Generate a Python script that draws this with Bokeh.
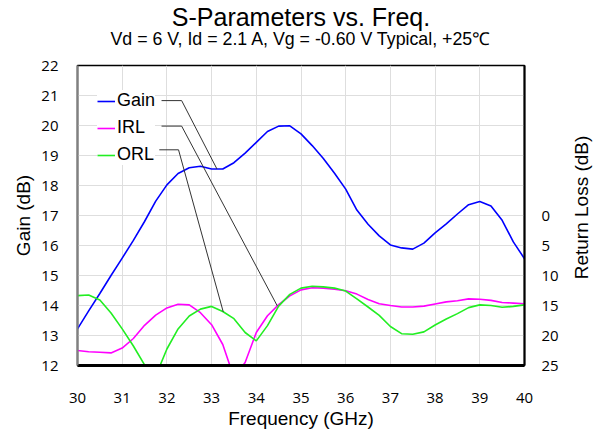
import math
import numpy as np
from bokeh.plotting import figure
from bokeh.models import (Range1d, LinearAxis, FixedTicker, Legend, LegendItem, Title, Label)
from bokeh.embed import file_html
from bokeh.resources import INLINE

# ---------------- data ----------------
freq_ghz = np.arange(30.0, 40.001, 0.25)

gain_db = [13.22, 13.82, 14.40, 15.00, 15.58, 16.17, 16.80, 17.48, 18.02, 18.40,
           18.59, 18.64, 18.55, 18.55, 18.76, 19.08, 19.44, 19.80, 19.98, 19.99,
           19.72, 19.33, 18.90, 18.41, 17.88, 17.18, 16.71, 16.32, 16.02, 15.92,
           15.88, 16.08, 16.42, 16.72, 17.05, 17.36, 17.47, 17.32, 16.84, 16.12,
           15.56]

irl_db = [22.5, 22.7, 22.8, 22.9, 22.1, 20.5, 18.3, 16.6, 15.4, 14.8,
          14.9, 16.2, 18.2, 21.5, 27.0, 24.5, 19.5, 16.7, 14.85, 13.4,
          12.4, 12.05, 12.1, 12.3, 12.55, 13.1, 14.0, 14.7, 15.0, 15.25,
          15.25, 15.1, 14.75, 14.4, 14.2, 13.9, 13.95, 14.15, 14.5, 14.6,
          14.7]

orl_db = [13.35, 13.25, 14.1, 16.25, 18.9, 21.75, 24.9, 26.75, 22.25, 18.9,
          16.75, 15.6, 15.15, 16.0, 17.2, 19.5, 20.9, 18.35, 15.1, 13.15,
          12.1, 11.8, 11.9, 12.1, 12.6, 13.9, 15.25, 16.65, 18.5, 19.7,
          19.8, 19.4, 18.25, 17.25, 16.35, 15.35, 14.9, 15.0, 15.3, 15.15,
          14.9]

x_ticks = list(range(30, 41))
gain_ticks = list(range(12, 23))
rl_ticks = [0, 5, 10, 15, 20, 25]

series_names = ["Gain", "IRL", "ORL"]
series_colors = ["#0000ff", "#ff00ff", "#22ee22"]

# callout anchors (frequency on each curve that the leader line points to)
callout_freq = [33.12, 34.47, 33.26]
callout_start_x = [31.88, 31.88, 31.83]
callout_elbow_x = [32.33, 32.33, 32.26]
callout_y = [20.83, 19.98, 19.19]

title_text = "S-Parameters vs. Freq."
subtitle_text = "Vd = 6 V, Id = 2.1 A, Vg = -0.60 V Typical, +25\u2103"
x_title = "Frequency (GHz)"
y_title = "Gain (dB)"
y2_title = "Return Loss (dB)"

# ---------------- figure ----------------
G_LO, G_HI = 12, 22
RL_BOTTOM, RL_TOP = 25, -25

p = figure(title=None, frame_width=447, frame_height=300,
           x_range=Range1d(30, 40), y_range=Range1d(G_LO, G_HI),
           output_backend="svg", toolbar_location=None,
           min_border_left=77, min_border_right=76,
           min_border_top=65, min_border_bottom=68,
           background_fill_color="white", border_fill_color="white")
p.extra_y_ranges = {"rl": Range1d(start=RL_BOTTOM, end=RL_TOP)}

p.outline_line_color = "black"
p.outline_line_width = 1.5

TICK_FONT = "Open Sans"
LABEL_FONT = "Liberation Sans"

p.xaxis.ticker = FixedTicker(ticks=x_ticks)
p.yaxis.ticker = FixedTicker(ticks=gain_ticks)
p.xaxis.axis_label = x_title
p.yaxis.axis_label = y_title

right = LinearAxis(y_range_name="rl", ticker=FixedTicker(ticks=rl_ticks))
p.add_layout(right, "right")

for ax in [p.xaxis[0], p.yaxis[0], right]:
    ax.major_tick_out = 0
    ax.major_tick_in = 0
    ax.minor_tick_out = 0
    ax.minor_tick_in = 0
    ax.major_label_text_font = TICK_FONT
    ax.major_label_text_font_size = "15px"
    ax.major_label_text_color = "black"
    ax.axis_label_text_font = LABEL_FONT
    ax.axis_label_text_font_size = "19px"
    ax.axis_label_text_font_style = "normal"
    ax.axis_label_text_color = "black"

p.xaxis.axis_line_color = "black"
p.xaxis.axis_line_width = 3
p.xaxis.major_label_standoff = 27
p.xaxis.axis_label_standoff = 2
p.yaxis.axis_line_color = "#808080"
p.yaxis.axis_line_width = 2
p.yaxis.major_label_standoff = 19
p.yaxis.axis_label_standoff = 4
right.axis_line_color = "black"
right.axis_line_width = 2
right.major_label_standoff = 17

# right-hand axis title, reading bottom-to-top as in the reference,
# placed in the right side panel (screen units relative to that panel)
p.add_layout(Label(x=20, y=158, x_units="screen", y_units="screen",
                   text=y2_title, angle=math.pi / 2, text_align="center",
                   text_baseline="middle", text_font=LABEL_FONT,
                   text_font_size="19px", text_color="black"), "right")

p.xgrid.grid_line_color = "#dedede"
p.ygrid.grid_line_color = "#dedede"
p.xgrid.grid_line_width = 1
p.ygrid.grid_line_width = 1

# ---------------- curves ----------------
r_gain = p.line(freq_ghz, gain_db, line_color=series_colors[0], line_width=1.6)
r_irl = p.line(freq_ghz, irl_db, line_color=series_colors[1], line_width=1.6,
               y_range_name="rl")
r_orl = p.line(freq_ghz, orl_db, line_color=series_colors[2], line_width=1.6,
               y_range_name="rl")


def rl_to_gain(rl):
    return G_LO + (rl - RL_BOTTOM) / (RL_TOP - RL_BOTTOM) * (G_HI - G_LO)


end_y = [np.interp(callout_freq[0], freq_ghz, gain_db),
         rl_to_gain(np.interp(callout_freq[1], freq_ghz, irl_db)),
         rl_to_gain(np.interp(callout_freq[2], freq_ghz, orl_db))]
xs = [[callout_start_x[i], callout_elbow_x[i], callout_freq[i]] for i in range(3)]
ys = [[callout_y[i], callout_y[i], end_y[i]] for i in range(3)]
p.multi_line(xs, ys, line_color="#333333", line_width=1)

legend = Legend(items=[LegendItem(label=series_names[0], renderers=[r_gain]),
                       LegendItem(label=series_names[1], renderers=[r_irl]),
                       LegendItem(label=series_names[2], renderers=[r_orl])],
                location=(20, 200), orientation="vertical",
                border_line_color=None, background_fill_color="white",
                background_fill_alpha=1.0,
                label_text_font=LABEL_FONT, label_text_font_size="18px",
                label_text_color="black",
                glyph_width=18, glyph_height=20, label_height=20,
                label_standoff=2, spacing=6, padding=3, margin=0)
p.add_layout(legend)

sub = Title(text=subtitle_text, align="center", text_font=LABEL_FONT,
            text_font_size="17.8px", text_font_style="normal", text_color="black",
            standoff=34)
main = Title(text=title_text, align="center", text_font=LABEL_FONT,
             text_font_size="25px", text_font_style="normal", text_color="black",
             standoff=-42)
p.add_layout(sub, "above")
p.add_layout(main, "above")

open("out.html", "w").write(file_html(p, INLINE))
